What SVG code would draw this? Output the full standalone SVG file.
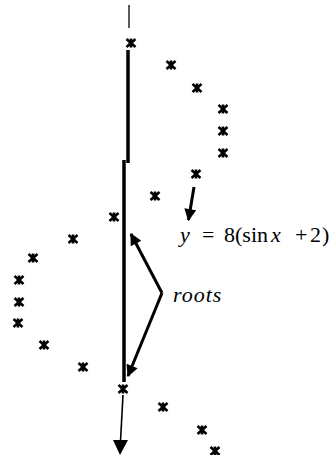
<svg xmlns="http://www.w3.org/2000/svg" width="335" height="455" viewBox="0 0 335 455">
<style>
.ax{stroke:#000;fill:none;stroke-linecap:butt}
.ar{stroke:#000;stroke-width:3;fill:none}
.t{font-family:"Liberation Serif",serif;font-size:22px;fill:#000}
.i{font-style:italic}
.st{stroke:#000;stroke-width:2.6;fill:none}
</style>
<defs>
<g id="star">
<path class="st" d="M-4.5,-4L4.5,4M-4.5,4L4.5,-4M0,-4.5V4.5"/>
<rect x="-2.2" y="-2.2" width="4.4" height="4.4" fill="#000"/>
</g>
<marker id="ah" viewBox="0 0 10 10" refX="9" refY="5" markerWidth="4.5" markerHeight="4" orient="auto" markerUnits="strokeWidth">
<path d="M0,0L10,5L0,10z" fill="#000"/>
</marker>
</defs>
<rect width="335" height="455" fill="#fff"/>
<g id="connectors">
<path class="ax" stroke-width="1.3" d="M129,5V28"/>
<path class="ax" stroke-width="3.5" d="M128,50V163"/>
<path class="ax" stroke-width="3.5" d="M124,160V382"/>
<path class="ax" stroke-width="1.6" d="M123,395L120.5,441"/>
<polygon points="113,440 128,440 120,455" fill="#000"/>
<path class="ar" d="M194,187L188.5,220" marker-end="url(#ah)"/>
<path class="ar" d="M162,293L131,234" marker-end="url(#ah)"/>
<path class="ar" d="M162,293L128,376" marker-end="url(#ah)"/>
</g>
<g id="points">
<use href="#star" x="131" y="43"/>
<use href="#star" x="171" y="65"/>
<use href="#star" x="197" y="88"/>
<use href="#star" x="223" y="109"/>
<use href="#star" x="223" y="131"/>
<use href="#star" x="223" y="153"/>
<use href="#star" x="196" y="174"/>
<use href="#star" x="155" y="196"/>
<use href="#star" x="114" y="217"/>
<use href="#star" x="73" y="239"/>
<use href="#star" x="33" y="258"/>
<use href="#star" x="19" y="280"/>
<use href="#star" x="19" y="302"/>
<use href="#star" x="18" y="323"/>
<use href="#star" x="44" y="345"/>
<use href="#star" x="83" y="367"/>
<use href="#star" x="123" y="389"/>
<use href="#star" x="163" y="407"/>
<use href="#star" x="202" y="430"/>
<use href="#star" x="215" y="451"/>
</g>
<g id="label-y">
<text class="t" y="242"><tspan class="i" x="180">y</tspan><tspan x="202">=</tspan><tspan x="224">8(sin</tspan><tspan class="i" x="271">x</tspan><tspan x="295">+</tspan><tspan x="310">2</tspan><tspan x="322">)</tspan></text>
</g>
<g id="label-roots">
<text class="t i" x="173" y="302" letter-spacing="1">roots</text>
</g>
</svg>
